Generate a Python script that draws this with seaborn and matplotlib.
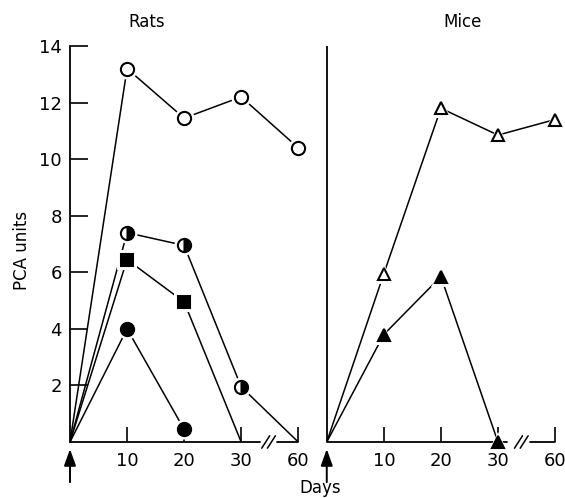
import matplotlib
matplotlib.use("Agg")
import matplotlib.pyplot as plt
import seaborn as sns
import pandas as pd

# days on the x axis (categorical, with a break between 30 and 60)
day_labels = ["10", "20", "30", "60"]
days = [0, 10, 20, 30, 60]

# Rats
rats_open_circle = [0, 13.2, 11.45, 12.2, 10.4]
rats_half_circle = [0, 7.4, 6.95, 1.95, 0]
rats_square = [0, 6.45, 4.95, 0]
rats_filled_circle = [0, 4.0, 0.45]

# Mice
mice_open_triangle = [0, 5.95, 11.8, 10.85, 11.4]
mice_filled_triangle = [0, 3.8, 5.85, 0]

MICE_OFFSET = 4.5
day_pos = {d: i for i, d in enumerate(days)}

sns.set_theme(style="white")
plt.rcParams["font.family"] = ["DejaVu Sans"]
plt.rcParams["text.color"] = "black"

fig = plt.figure(figsize=(5.65, 4.98), dpi=100)
ax = fig.add_axes([70 / 565, 56 / 498, 490.7 / 565, 396 / 498])


def frame(values, offset):
    d = pd.DataFrame({"day": days[:len(values)], "pca": values})
    d["x"] = d["day"].map(day_pos) + offset
    return d


# (values, offset, marker, face, alt face, marker on last point?)
series = [
    (rats_open_circle, 0, "o", "white", None, True),
    (rats_half_circle, 0, "o", "black", "white", False),
    (rats_square, 0, "s", "black", None, False),
    (rats_filled_circle, 0, "o", "black", None, True),
    (mice_open_triangle, MICE_OFFSET, "^", "white", None, True),
    (mice_filled_triangle, MICE_OFFSET, "^", "black", None, True),
]

for values, offset, mk, face, alt, last_marked in series:
    d = frame(values, offset)
    sns.lineplot(data=d, x="x", y="pca", sort=False, estimator=None,
                 color="black", lw=1.1, ax=ax, zorder=2)
    m = d.iloc[1:] if last_marked else d.iloc[1:-1]
    size = 9.5 if mk == "o" else 9.0
    # white halo so lines stop short of the symbols
    sns.lineplot(data=m, x="x", y="pca", sort=False, estimator=None,
                 linestyle="none", marker=mk, markersize=size + 5,
                 markerfacecolor="white", markeredgecolor="white",
                 markeredgewidth=0, color="white", ax=ax, zorder=3,
                 clip_on=False)
    kw = dict(markerfacecolor=face)
    if alt is not None:
        kw.update(fillstyle="right", markerfacecoloralt=alt)
    sns.lineplot(data=m, x="x", y="pca", sort=False, estimator=None,
                 linestyle="none", marker=mk, markersize=size,
                 markeredgecolor="black", markeredgewidth=1.5,
                 color="black", ax=ax, zorder=4, clip_on=False, **kw)

ax.set_xlim(0, 8.6)
ax.set_ylim(0, 14)

for s in ["top", "right", "bottom"]:
    ax.spines[s].set_visible(False)
ax.spines["left"].set_color("black")
ax.spines["left"].set_linewidth(1.3)

# divider / mice axis
ax.plot([MICE_OFFSET, MICE_OFFSET], [0, 14], color="black", lw=1.3, zorder=1)

# broken x axes
for x0, x1 in [(0, 3.33), (3.63, 4.0), (MICE_OFFSET, MICE_OFFSET + 3.16),
               (MICE_OFFSET + 3.56, MICE_OFFSET + 4.0)]:
    ax.plot([x0, x1], [0, 0], color="black", lw=1.3, clip_on=False, zorder=1)
for xb in [3.48, MICE_OFFSET + 3.41]:
    for dx in (-0.05, 0.05):
        ax.plot([xb + dx - 0.07, xb + dx + 0.07], [-0.22, 0.22],
                color="black", lw=1.1, clip_on=False, zorder=1)

xt = [day_pos[d] for d in days[1:]]
ax.set_xticks(xt + [x + MICE_OFFSET for x in xt])
ax.set_xticklabels(day_labels * 2)
ax.set_yticks([2, 4, 6, 8, 10, 12, 14])
ax.tick_params(axis="x", direction="in", length=11, width=1.2, pad=7,
               labelsize=13, bottom=True, colors="black")
ax.tick_params(axis="y", direction="in", length=13, width=1.2, pad=6,
               labelsize=13, left=True, colors="black")
ax.set_xlabel("")
ax.set_ylabel("")

# arrows marking day 0
for x in [0, MICE_OFFSET]:
    ax.annotate("", xy=(x, -0.25), xytext=(x, -1.42), xycoords="data",
                annotation_clip=False,
                arrowprops=dict(arrowstyle="-|>,head_length=1.0,head_width=0.36",
                                mutation_scale=10, shrinkA=0, shrinkB=0,
                                color="black", lw=1.4))

fig.text(147 / 565, 1 - 22 / 498, "Rats", ha="center", va="center", fontsize=12)
fig.text(463 / 565, 1 - 22 / 498, "Mice", ha="center", va="center", fontsize=12)
fig.text(320 / 565, 1 - 488 / 498, "Days", ha="center", va="center", fontsize=12)
fig.text(22 / 565, 1 - 250 / 498, "PCA units", ha="center", va="center",
         rotation=90, fontsize=12)

fig.savefig("out.png", dpi=100)
